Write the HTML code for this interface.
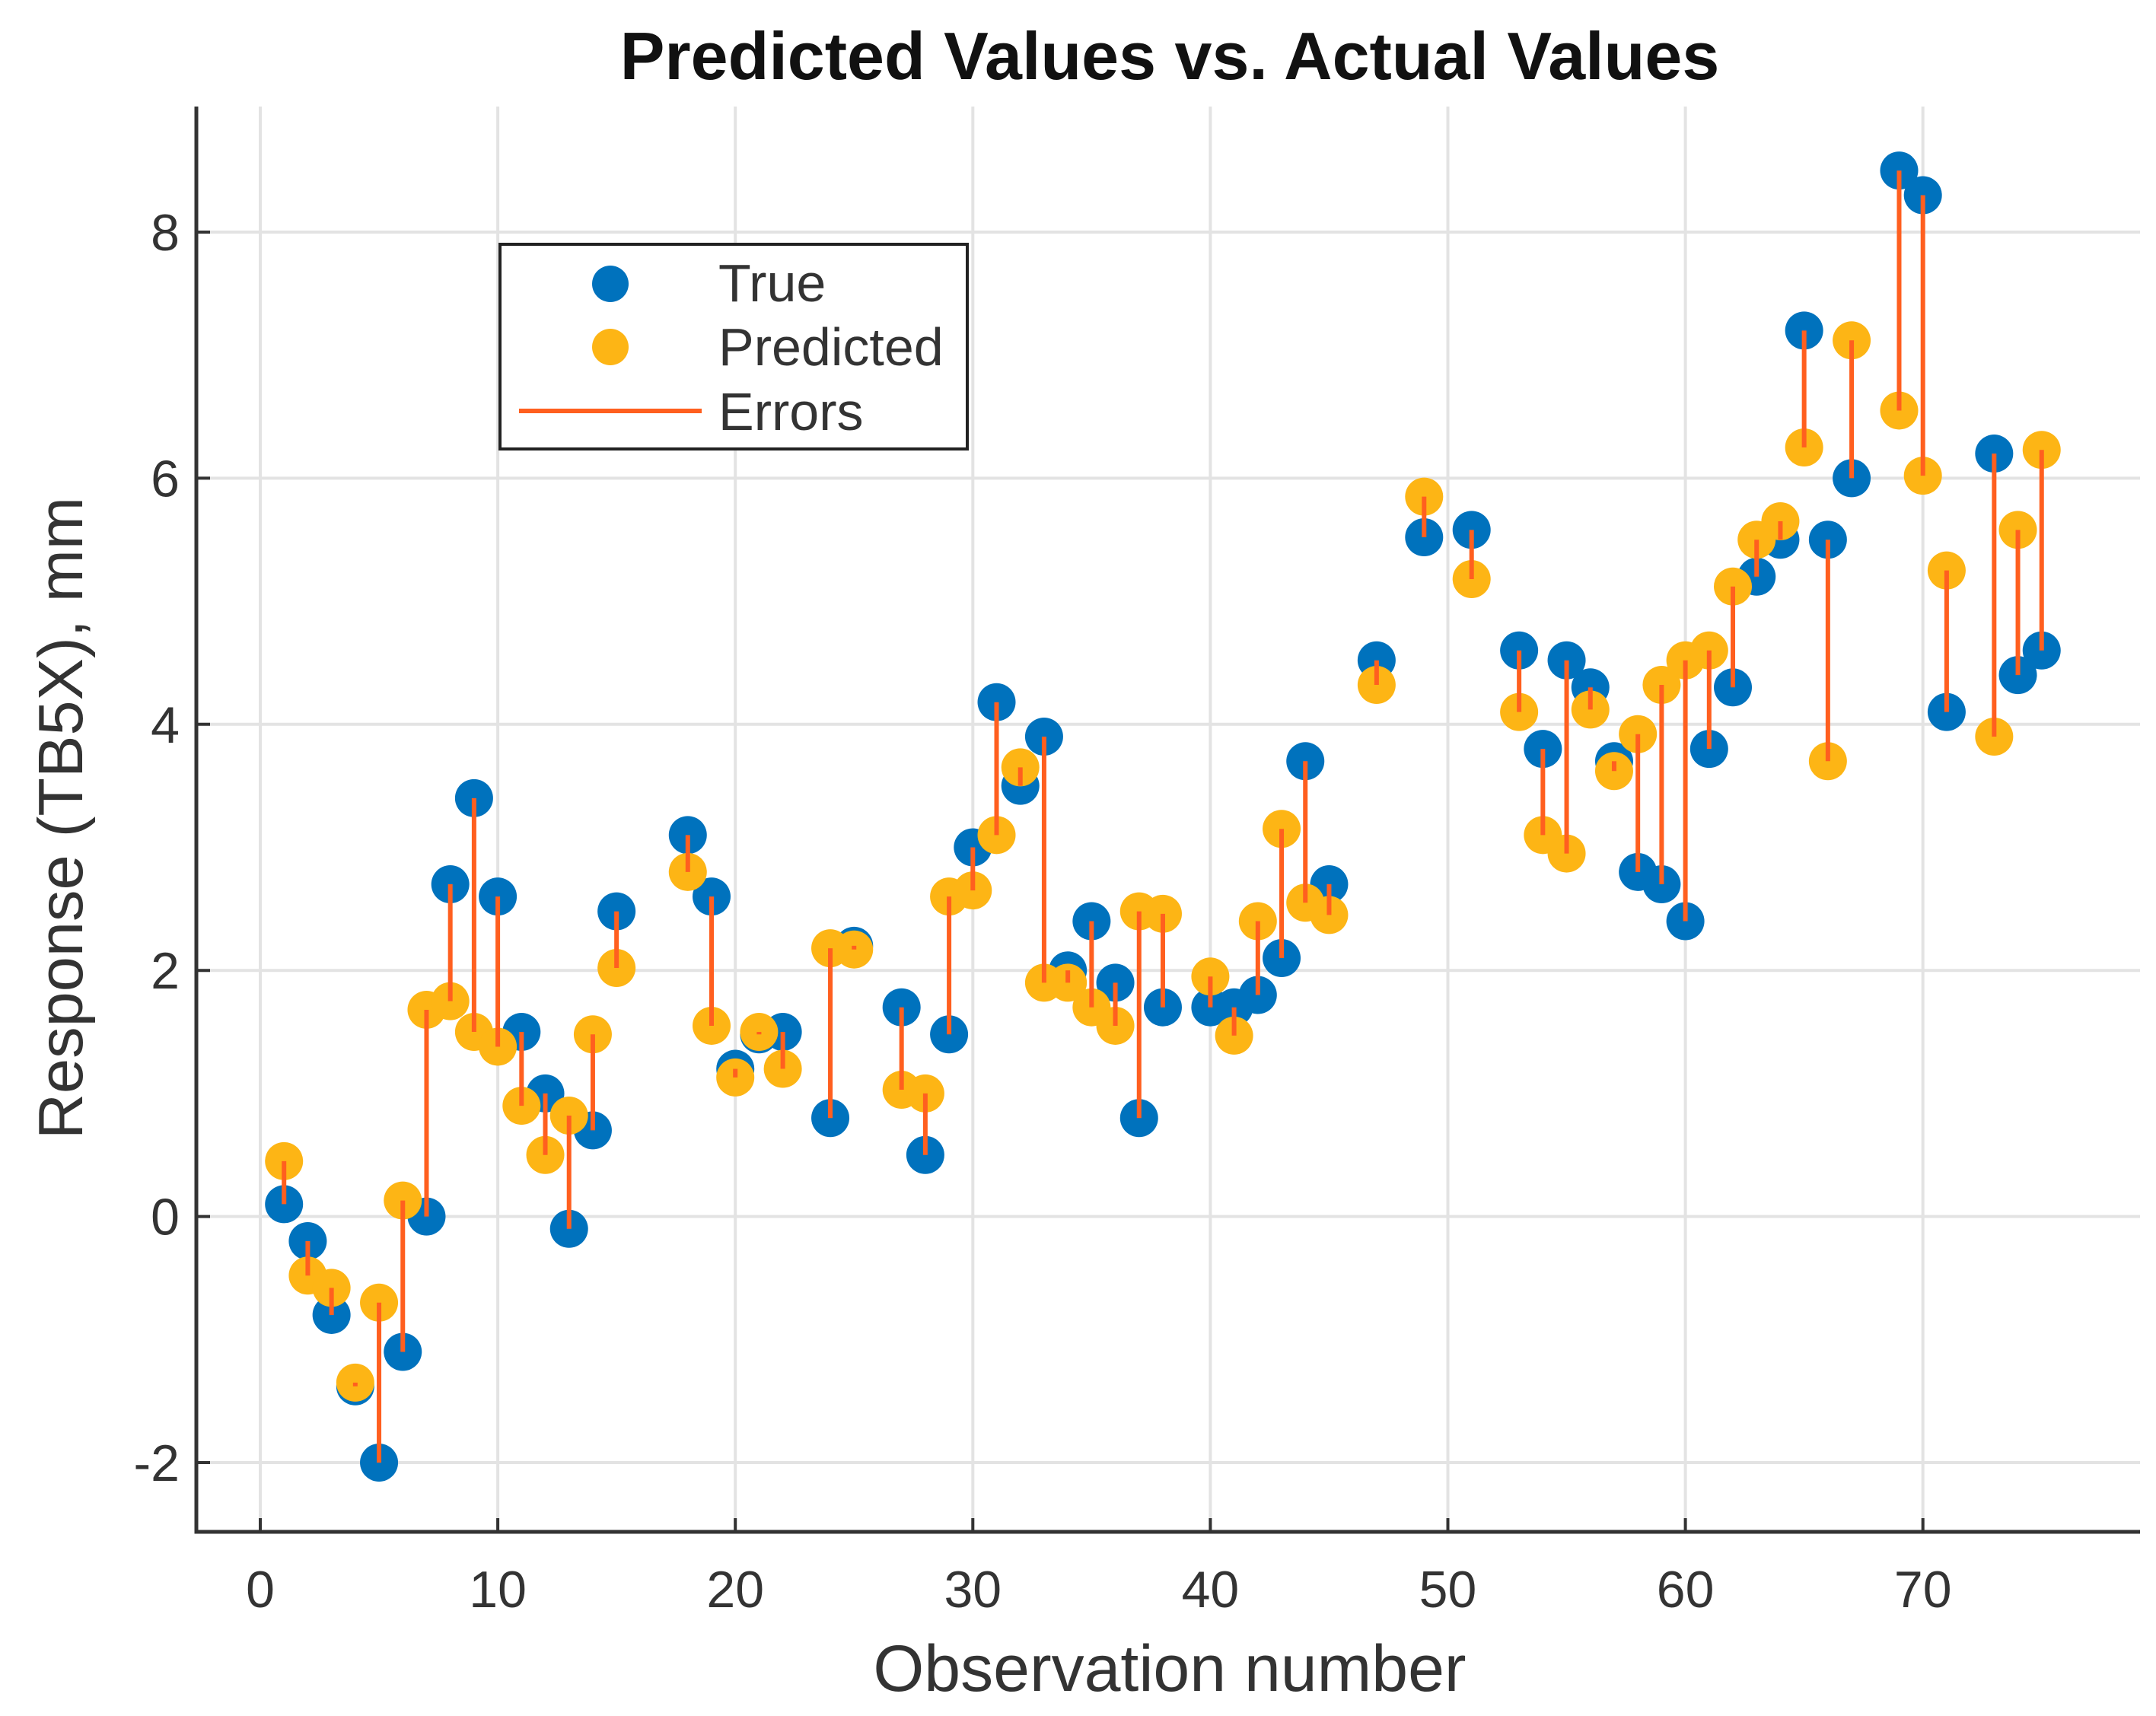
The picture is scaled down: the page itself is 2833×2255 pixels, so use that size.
<!DOCTYPE html>
<html><head><meta charset="utf-8"><style>
body{margin:0;background:#fff;}
svg{display:block;font-family:"Liberation Sans",sans-serif;}
</style></head><body>
<svg id="chart" width="2833" height="2255" viewBox="0 0 2833 2255">
<rect width="2833" height="2255" fill="#fff"/>
<g id="grid"></g>
<g id="marks"></g>
<g id="axes"></g>
<text x="1537" y="104" text-anchor="middle" font-size="88" font-weight="bold" fill="#111">Predicted Values vs. Actual Values</text>
<text x="1537" y="2222" text-anchor="middle" font-size="86" fill="#333">Observation number</text>
<text transform="translate(108,1075) rotate(-90)" text-anchor="middle" font-size="83" fill="#333">Response (TB5X), mm</text>
<g>
<rect x="657" y="321" width="614" height="269" fill="#fff" stroke="#222" stroke-width="4"/>
<circle cx="802" cy="373" r="24" fill="#0072BD"/>
<text x="944" y="396" font-size="70" fill="#333">True</text>
<circle cx="802" cy="456" r="24" fill="#FDB515"/>
<text x="944" y="480" font-size="70" fill="#333">Predicted</text>
<line x1="682" y1="540" x2="922" y2="540" stroke="#FF5F1F" stroke-width="6"/>
<text x="944" y="565" font-size="70" fill="#333">Errors</text>
</g>
</svg>
<script>
const obs=[1,2,3,4,5,6,7,8,9,10,11,12,13,14,15,18,19,20,21,22,24,25,27,28,29,30,31,32,33,34,35,36,37,38,40,41,42,43,44,45,47,49,51,53,54,55,56,57,58,59,60,61,62,63,64,65,66,67,69,70,71,73,74,75];
const trueVals=[0.1,-0.2,-0.8,-1.38,-2.0,-1.1,0.0,2.7,3.4,2.6,1.5,1.0,-0.1,0.7,2.48,3.1,2.6,1.2,1.48,1.5,0.8,2.2,1.7,0.5,1.48,3.0,4.18,3.5,3.9,2.0,2.4,1.9,0.8,1.7,1.7,1.7,1.8,2.1,3.7,2.7,4.52,5.52,5.58,4.6,3.8,4.52,4.3,3.7,2.8,2.7,2.4,3.8,4.3,5.2,5.5,7.2,5.5,6.0,8.5,8.3,4.1,6.2,4.4,4.6];
const predVals=[0.45,-0.48,-0.58,-1.35,-0.7,0.13,1.68,1.75,1.5,1.38,0.9,0.5,0.82,1.48,2.02,2.8,1.55,1.13,1.5,1.2,2.18,2.17,1.03,1.0,2.6,2.65,3.1,3.65,1.9,1.9,1.7,1.55,2.48,2.46,1.95,1.47,2.4,3.15,2.55,2.45,4.32,5.85,5.18,4.1,3.1,2.95,4.12,3.62,3.92,4.32,4.52,4.6,5.12,5.5,5.65,6.25,3.7,7.12,6.55,6.02,5.25,3.9,5.58,6.23];
const xTicks=[0,10,20,30,40,50,60,70];
const yTicks=[-2,0,2,4,6,8];
const NS="http://www.w3.org/2000/svg";
const X=v=>342+31.21*v;
const Y=v=>1598.6-161.7*v;
const L=258,R=2812,T=140,B=2013;
function mk(tag,attrs,parent){const e=document.createElementNS(NS,tag);for(const k in attrs)e.setAttribute(k,attrs[k]);parent.appendChild(e);return e;}
const grid=document.getElementById('grid'),marks=document.getElementById('marks'),axes=document.getElementById('axes');
xTicks.forEach(t=>{
 const g=mk('line',{x1:X(t),x2:X(t),y1:T,y2:B,stroke:'#e3e3e3','stroke-width':4},grid);
 
 
 const tk=mk('line',{x1:X(t),x2:X(t),y1:B,y2:B-18,stroke:'#333','stroke-width':4},axes);
 
 
 const tx=mk('text',{x:X(t),y:2112,'text-anchor':'middle','font-size':68,fill:'#333'},axes);
 tx.textContent=t;
 
 
});
yTicks.forEach(t=>{
 const g=mk('line',{x1:L,x2:R,y1:Y(t),y2:Y(t),stroke:'#e3e3e3','stroke-width':4},grid);
 
 
 const tk=mk('line',{x1:L,x2:L+18,y1:Y(t),y2:Y(t),stroke:'#333','stroke-width':4},axes);
 
 
 const tx=mk('text',{x:236,y:Y(t)+24,'text-anchor':'end','font-size':68,fill:'#333'},axes);
 tx.textContent=t;
 
 
});
const ax=mk('path',{d:`M${L},${T} L${L},${B} L${R},${B}`,fill:'none',stroke:'#333','stroke-width':5},axes);


obs.forEach((o,i)=>{
 const c=mk('circle',{cx:X(o),cy:Y(trueVals[i]),r:25,fill:'#0072BD'},marks);
 
 
});
obs.forEach((o,i)=>{
 const c=mk('circle',{cx:X(o),cy:Y(predVals[i]),r:25,fill:'#FDB515'},marks);
 
 
});
obs.forEach((o,i)=>{
 const l=mk('line',{x1:X(o),x2:X(o),y1:Y(trueVals[i]),y2:Y(predVals[i]),stroke:'#FF5F1F','stroke-width':6},marks);
 
 
});
</script>
</body></html>
